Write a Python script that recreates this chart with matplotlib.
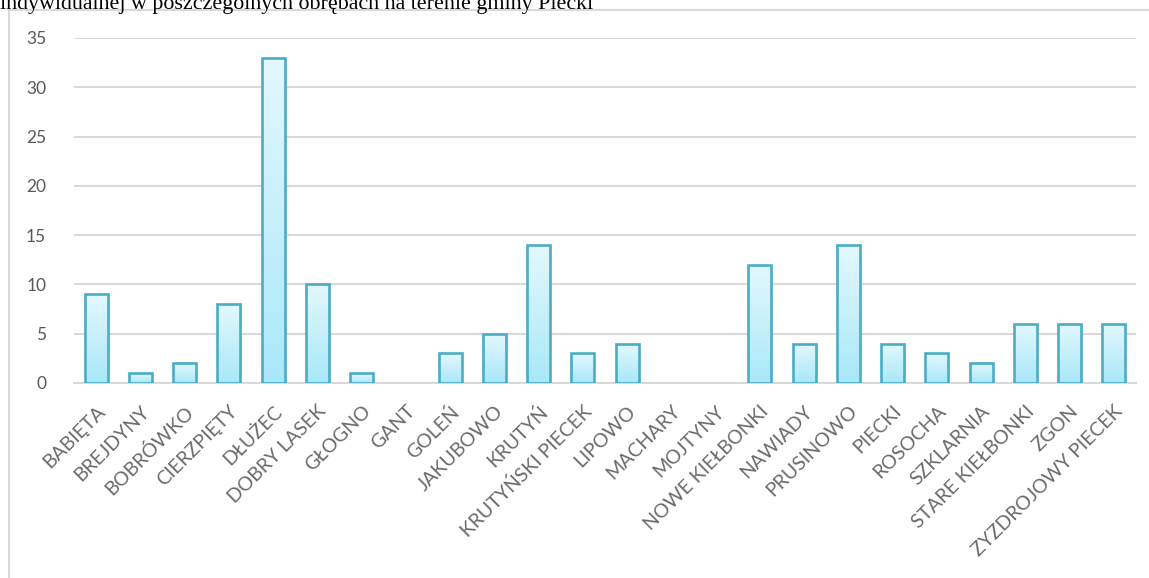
import numpy as np
import matplotlib
matplotlib.use('Agg')
import matplotlib.pyplot as plt
from matplotlib.patches import Rectangle
from matplotlib.colors import LinearSegmentedColormap

plt.rcParams['font.family'] = ['Lato', 'DejaVu Sans']

names = ['BABIĘTA', 'BREJDYNY', 'BOBRÓWKO', 'CIERZPIĘTY', 'DŁUŻEC', 'DOBRY LASEK',
         'GŁOGNO', 'GANT', 'GOLEŃ', 'JAKUBOWO', 'KRUTYŃ', 'KRUTYŃSKI PIECEK',
         'LIPOWO', 'MACHARY', 'MOJTYNY', 'NOWE KIEŁBONKI', 'NAWIADY', 'PRUSINOWO',
         'PIECKI', 'ROSOCHA', 'SZKLARNIA', 'STARE KIEŁBONKI', 'ZGON', 'ZYZDROJOWY PIECEK']
counts = [9, 1, 2, 8, 33, 10, 1, 0, 3, 5, 14, 3, 4, 0, 0, 12, 4, 14, 4, 3, 2, 6, 6, 6]
yticks = [0, 5, 10, 15, 20, 25, 30, 35]

title = 'indywidualnej w poszczególnych obrębach na terenie gminy Piecki'

grey = '#595959'
edge = '#4bacc6'
cmap = LinearSegmentedColormap.from_list('bar', ['#a9e8f9', '#e4f8fe'])

fig = plt.figure(figsize=(11.49, 5.78), dpi=100)

# caption line above the chart (cut at the top edge, as in the source)
fig.text(0.0, 0.9845, title, family='Liberation Serif', fontsize=15.8,
         color='black', va='baseline', ha='left')

# chart border
fig.patches.append(Rectangle((0.0075, -0.05), 1.2, 1.032, transform=fig.transFigure,
                             facecolor='none', edgecolor='#d9d9d9', lw=1.5, zorder=-1))

ax = fig.add_axes([0.0644, 0.3374, 0.9243, 0.5969])
ax.set_facecolor('none')
x = np.arange(len(names))
heights = np.array(counts, dtype=float)
bars = ax.bar(x, heights, width=0.52, facecolor='none', edgecolor=edge, lw=1.9, zorder=3)

# gradient fill inside each bar, hide empty bars
grad = np.linspace(0, 1, 256).reshape(-1, 1)
for b in bars:
    h = b.get_height()
    if h <= 0:
        b.set_visible(False)
        continue
    im = ax.imshow(grad, cmap=cmap, aspect='auto', origin='lower', zorder=2,
                   extent=[b.get_x(), b.get_x() + b.get_width(), 0, h])
    im.set_clip_path(b)

ax.set_xlim(-0.5, len(names) - 0.5)
ax.set_ylim(0, 35)

ax.set_yticks(yticks)
ax.yaxis.grid(True, color='#d9d9d9', lw=1.5, zorder=0)
ax.set_axisbelow(True)
for s in ['top', 'right', 'left']:
    ax.spines[s].set_visible(False)
ax.spines['bottom'].set_color('#d9d9d9')
ax.spines['bottom'].set_linewidth(1.5)
ax.spines['bottom'].set_zorder(1)

ax.tick_params(axis='y', length=0, pad=20, labelsize=12.5, labelcolor=grey)
ax.set_xticks(x)
ax.set_xticklabels(names, rotation=45, ha='right', rotation_mode='anchor')
ax.tick_params(axis='x', length=0, pad=14, labelsize=14, labelcolor='#6a6a6a')

fig.savefig('out.png', dpi=100)
